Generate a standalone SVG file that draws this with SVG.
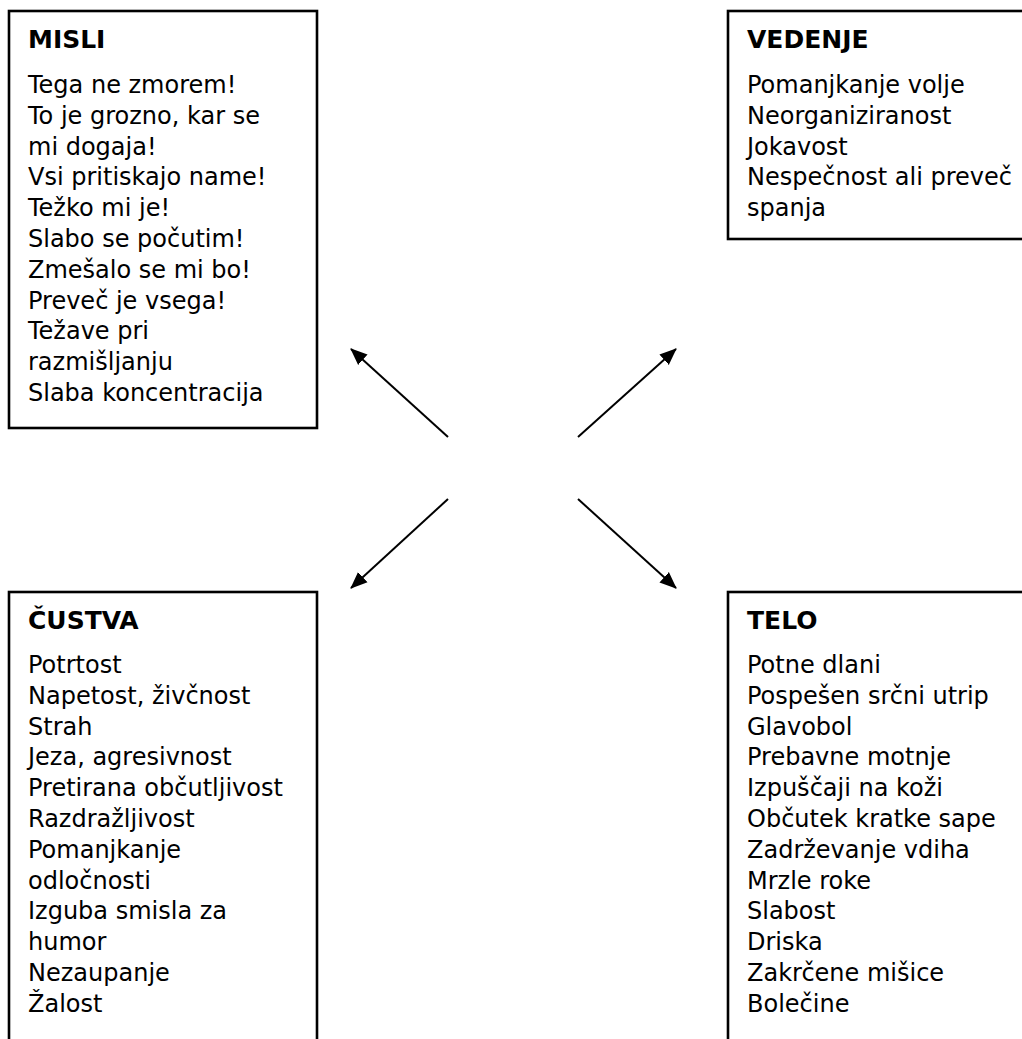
<svg xmlns="http://www.w3.org/2000/svg" width="1022" height="1039" viewBox="0 0 1022 1039">
<style>
.box{fill:#fff;stroke:#000;stroke-width:2.6}
.h{font-family:"DejaVu Sans",sans-serif;font-weight:bold;font-size:25px;fill:#000}
.t{font-family:"DejaVu Sans",sans-serif;font-size:24px;fill:#000}
.c{stroke:#000;stroke-width:2;fill:none;marker-end:url(#ah)}
</style>
<defs>
<marker id="ah" markerUnits="userSpaceOnUse" markerWidth="18" markerHeight="16" refX="16" refY="7" orient="auto" viewBox="0 0 18 14">
<path d="M0,0 L17,7 L0,14 Z" fill="#000"/>
</marker>
</defs>
<rect width="1022" height="1039" fill="#fff"/>
<g id="misli">
<rect class="box" x="9" y="11" width="308" height="417"/>
<text class="h" x="28" y="48">MISLI</text>
<text class="t"><tspan x="28" y="93">Tega ne zmorem!</tspan><tspan x="28" y="123.8">To je grozno, kar se</tspan><tspan x="28" y="154.6">mi dogaja!</tspan><tspan x="28" y="185.4">Vsi pritiskajo name!</tspan><tspan x="28" y="216.2">Težko mi je!</tspan><tspan x="28" y="247">Slabo se počutim!</tspan><tspan x="28" y="277.8">Zmešalo se mi bo!</tspan><tspan x="28" y="308.6">Preveč je vsega!</tspan><tspan x="28" y="339.4">Težave pri</tspan><tspan x="28" y="370.2">razmišljanju</tspan><tspan x="28" y="401">Slaba koncentracija</tspan></text>
</g>
<g id="vedenje">
<rect class="box" x="728" y="11" width="308" height="228"/>
<text class="h" x="747" y="48">VEDENJE</text>
<text class="t"><tspan x="747" y="93">Pomanjkanje volje</tspan><tspan x="747" y="123.8">Neorganiziranost</tspan><tspan x="747" y="154.6">Jokavost</tspan><tspan x="747" y="185.4">Nespečnost ali preveč</tspan><tspan x="747" y="216.2">spanja</tspan></text>
</g>
<g id="custva">
<rect class="box" x="9" y="592" width="308" height="470"/>
<text class="h" x="28" y="629">ČUSTVA</text>
<text class="t"><tspan x="28" y="673">Potrtost</tspan><tspan x="28" y="703.8">Napetost, živčnost</tspan><tspan x="28" y="734.6">Strah</tspan><tspan x="28" y="765.4">Jeza, agresivnost</tspan><tspan x="28" y="796.2">Pretirana občutljivost</tspan><tspan x="28" y="827">Razdražljivost</tspan><tspan x="28" y="857.8">Pomanjkanje</tspan><tspan x="28" y="888.6">odločnosti</tspan><tspan x="28" y="919.4">Izguba smisla za</tspan><tspan x="28" y="950.2">humor</tspan><tspan x="28" y="981">Nezaupanje</tspan><tspan x="28" y="1011.8">Žalost</tspan></text>
</g>
<g id="telo">
<rect class="box" x="728" y="592" width="308" height="470"/>
<text class="h" x="747" y="629">TELO</text>
<text class="t"><tspan x="747" y="673">Potne dlani</tspan><tspan x="747" y="703.8">Pospešen srčni utrip</tspan><tspan x="747" y="734.6">Glavobol</tspan><tspan x="747" y="765.4">Prebavne motnje</tspan><tspan x="747" y="796.2">Izpuščaji na koži</tspan><tspan x="747" y="827">Občutek kratke sape</tspan><tspan x="747" y="857.8">Zadrževanje vdiha</tspan><tspan x="747" y="888.6">Mrzle roke</tspan><tspan x="747" y="919.4">Slabost</tspan><tspan x="747" y="950.2">Driska</tspan><tspan x="747" y="981">Zakrčene mišice</tspan><tspan x="747" y="1011.8">Bolečine</tspan></text>
</g>
<g id="connectors">
<line class="c" x1="448" y1="437" x2="351" y2="349"/>
<line class="c" x1="578" y1="437" x2="676" y2="349"/>
<line class="c" x1="448" y1="499" x2="351" y2="588"/>
<line class="c" x1="578" y1="499" x2="676" y2="588"/>
</g>
</svg>
